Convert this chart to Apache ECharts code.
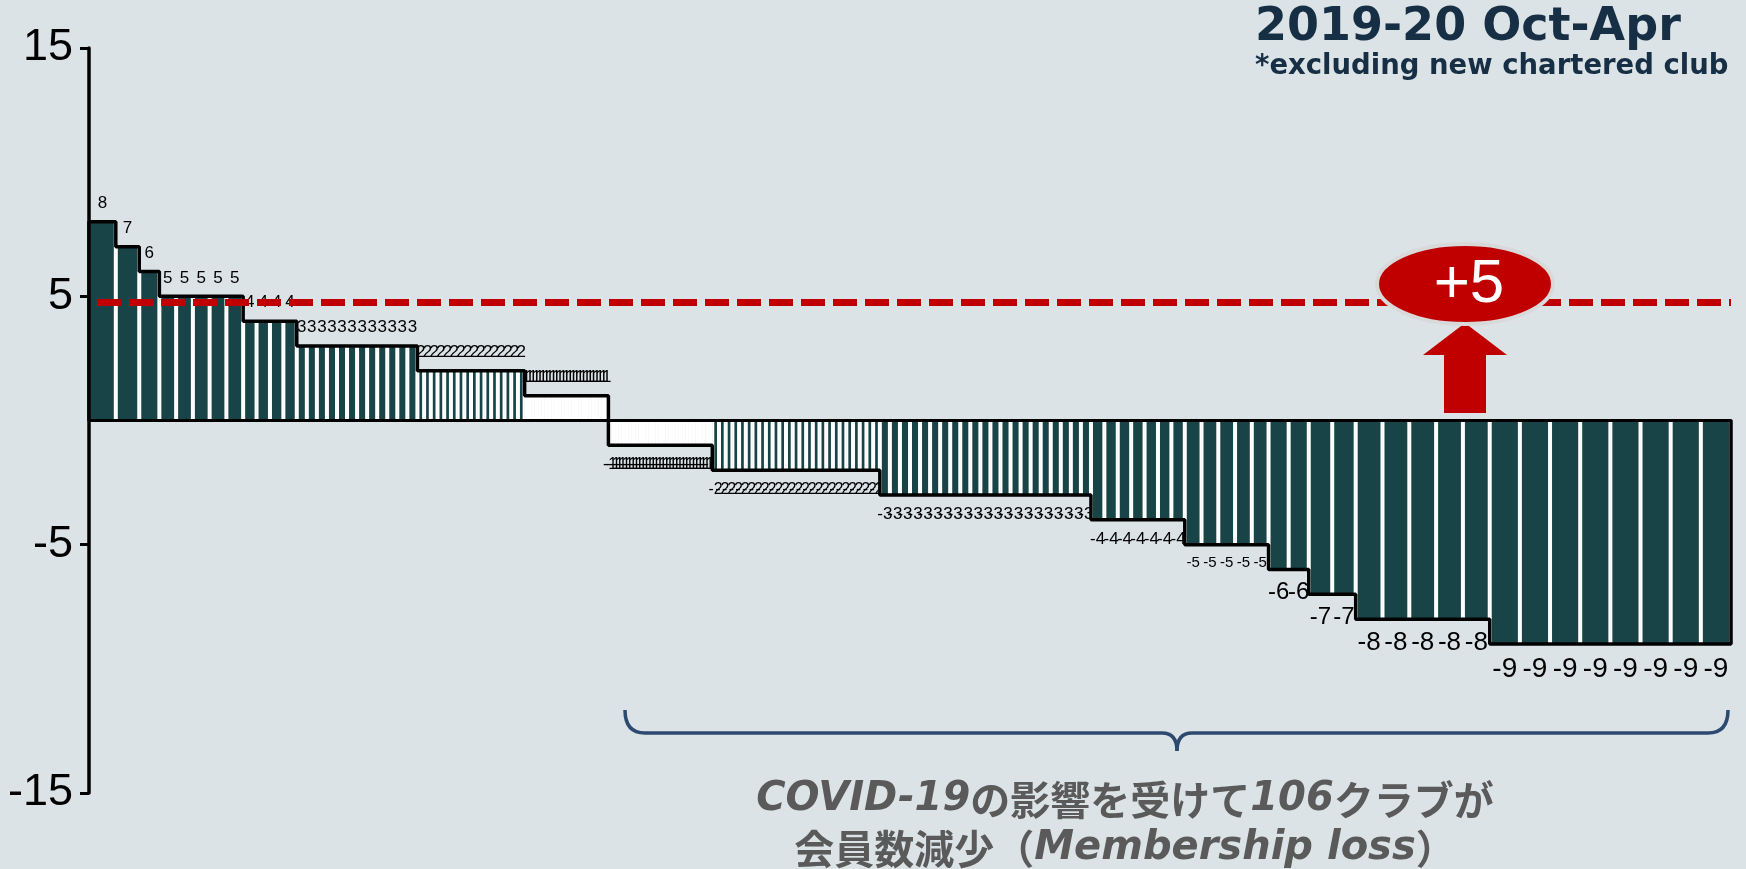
<!DOCTYPE html>
<html>
<head>
<meta charset="utf-8">
<script src="https://cdn.jsdelivr.net/npm/echarts@6/dist/echarts.min.js"></script>
<style>
    html, body { margin: 0; padding: 0; background: #dbe3e6; }
    #chart { width: 1746px; height: 869px; }
</style>
</head>
<body>
<div id="chart"></div>
<script>
// member change per club, grouped: each level and how many clubs had it
const levels = [8, 7, 6, 5, 4, 3, 2, 1, -1, -2, -3, -4, -5, -6, -7, -8, -9];
const clubCounts = [1, 1, 1, 5, 4, 12, 16, 25, 31, 25, 21, 7, 5, 2, 2, 5, 8];
const yTicks = [-15, -5, 5, 15];
const refLine = 4.75;

const barColor = '#184347';
const negLabelSize = { 1: 16, 2: 16, 3: 17, 4: 17, 5: 15, 6: 24, 7: 24, 8: 26, 9: 28 };

// each club bar is as wide as its change, so x is cumulative |change|
let bars = [];
let outline = [[0, 0]];
let pos = 0;
levels.forEach((v, i) => {
    outline.push([pos, v]);
    for (let k = 0; k < clubCounts[i]; k++) {
        bars.push([pos, pos + Math.abs(v), v]);
        pos += Math.abs(v);
    }
    outline.push([pos, v]);
});
outline.push([pos, 0]);
const total = pos;

function renderBar(params, api) {
    const x0 = api.value(0);
    const x1 = api.value(1);
    const v = api.value(2);
    const pBase = api.coord([x0, 0]);
    const pEnd = api.coord([x1, v]);
    const left = pBase[0];
    const w = pEnd[0] - pBase[0];
    const top = Math.min(pBase[1], pEnd[1]);
    const h = Math.abs(pEnd[1] - pBase[1]);
    const inner = Math.max(0, w - 4);

    const fontSize = v > 0 ? 17 : negLabelSize[-v];
    const cx = left + w / 2;
    return {
        type: 'group',
        children: [
            { type: 'rect', shape: { x: left, y: top, width: w, height: h }, style: { fill: '#ffffff' } },
            { type: 'rect', shape: { x: left + 2, y: top, width: inner, height: h }, style: { fill: barColor } },
            {
                type: 'text',
                x: cx,
                y: v > 0 ? top - 10 : top + h + 11,
                style: {
                    text: String(v),
                    fill: '#000',
                    fontSize: fontSize,
                    fontFamily: 'Liberation Sans',
                    align: 'center',
                    verticalAlign: v > 0 ? 'bottom' : 'top',
                },
            },
        ],
    };
}

// curly bracket under the loss side
function braceParts() {
    const line = { stroke: '#2c4a70', lineWidth: 3.5, fill: 'none' };
    return [
        { type: 'bezierCurve', z: 100, shape: { x1: 625, y1: 710, cpx1: 625, cpy1: 733, x2: 645, y2: 733 }, style: line },
        { type: 'line', z: 100, shape: { x1: 645, y1: 733, x2: 1162, y2: 733 }, style: line },
        { type: 'bezierCurve', z: 100, shape: { x1: 1162, y1: 733, cpx1: 1177, cpy1: 733, x2: 1177, y2: 751 }, style: line },
        { type: 'bezierCurve', z: 100, shape: { x1: 1177, y1: 751, cpx1: 1177, cpy1: 733, x2: 1192, y2: 733 }, style: line },
        { type: 'line', z: 100, shape: { x1: 1192, y1: 733, x2: 1708, y2: 733 }, style: line },
        { type: 'bezierCurve', z: 100, shape: { x1: 1708, y1: 733, cpx1: 1728, cpy1: 733, x2: 1728, y2: 710 }, style: line },
    ];
}

const chart = echarts.init(document.getElementById('chart'));

var option = {
    backgroundColor: '#dbe3e6',
    animation: false,
    grid: { left: 89, right: 15, top: 48, bottom: 76 },
    xAxis: {
        type: 'value',
        min: 0,
        max: total,
        z: 5,
        axisLine: { show: true, onZero: true, lineStyle: { color: '#000', width: 3 } },
        axisTick: { show: false },
        axisLabel: { show: false },
        splitLine: { show: false },
    },
    yAxis: {
        type: 'value',
        min: yTicks[0],
        max: yTicks[yTicks.length - 1],
        interval: 10,
        z: 5,
        axisLine: { show: true, lineStyle: { color: '#000', width: 3.5 } },
        axisTick: { show: true, length: 9, lineStyle: { color: '#000', width: 3 } },
        axisLabel: {
            color: '#000',
            fontSize: 45,
            fontFamily: 'Liberation Sans',
            margin: 16,
        },
        splitLine: { show: false },
    },
    series: [
        {
            type: 'custom',
            renderItem: renderBar,
            data: bars,
            z: 2,
        },
        {
            type: 'line',
            data: outline,
            symbol: 'none',
            lineStyle: { color: '#000', width: 3.5 },
            z: 4,
        },
        {
            type: 'line',
            data: [[0, refLine], [total, refLine]],
            symbol: 'none',
            lineStyle: { color: '#c00000', width: 7, type: [24, 8], dashOffset: 24 },
            z: 6,
        },
    ],
    graphic: [
        {
            type: 'text',
            x: 1255,
            y: 5,
            z: 100,
            style: {
                text: '2019-20 Oct-Apr',
                fill: '#172f45',
                font: 'bold 46px "DejaVu Sans"',
            },
        },
        {
            type: 'text',
            x: 1255,
            y: 53,
            z: 100,
            style: {
                text: '*excluding new chartered club',
                fill: '#172f45',
                font: 'bold 27.5px "DejaVu Sans"',
            },
        },
        {
            type: 'polygon',
            z: 100,
            shape: {
                points: [[1465, 323], [1423, 355], [1444, 355], [1444, 413], [1486, 413], [1486, 355], [1507, 355]],
            },
            style: { fill: '#c00000' },
        },
        {
            type: 'ellipse',
            z: 100,
            shape: { cx: 1465, cy: 284, rx: 88, ry: 40 },
            style: { fill: '#c00000', stroke: '#d9d9d9', lineWidth: 4 },
        },
        {
            type: 'text',
            x: 1469,
            y: 285,
            z: 101,
            style: {
                text: '+5',
                fill: '#fff',
                font: '62px "Liberation Sans"',
                align: 'center',
                verticalAlign: 'middle',
            },
        },
        ...braceParts(),
        {
            type: 'text',
            x: 1125,
            y: 824,
            z: 100,
            style: {
                text: '{i|COVID-19}{j|の影響を受けて}{i|106}{j|クラブが}\n{j|会員数減少（}{i|Membership loss}{j|）}',
                align: 'center',
                verticalAlign: 'middle',
                lineHeight: 49,
                rich: {
                    i: { fill: '#5a5a5a', fontSize: 40, fontWeight: 'bold', fontStyle: 'italic', fontFamily: 'DejaVu Sans', lineHeight: 49 },
                    j: { fill: '#5a5a5a', fontSize: 40, fontWeight: 'bold', fontFamily: 'Noto Sans CJK JP', lineHeight: 49 },
                },
            },
        },
    ],
};

option && chart.setOption(option);
</script>
</body>
</html>
